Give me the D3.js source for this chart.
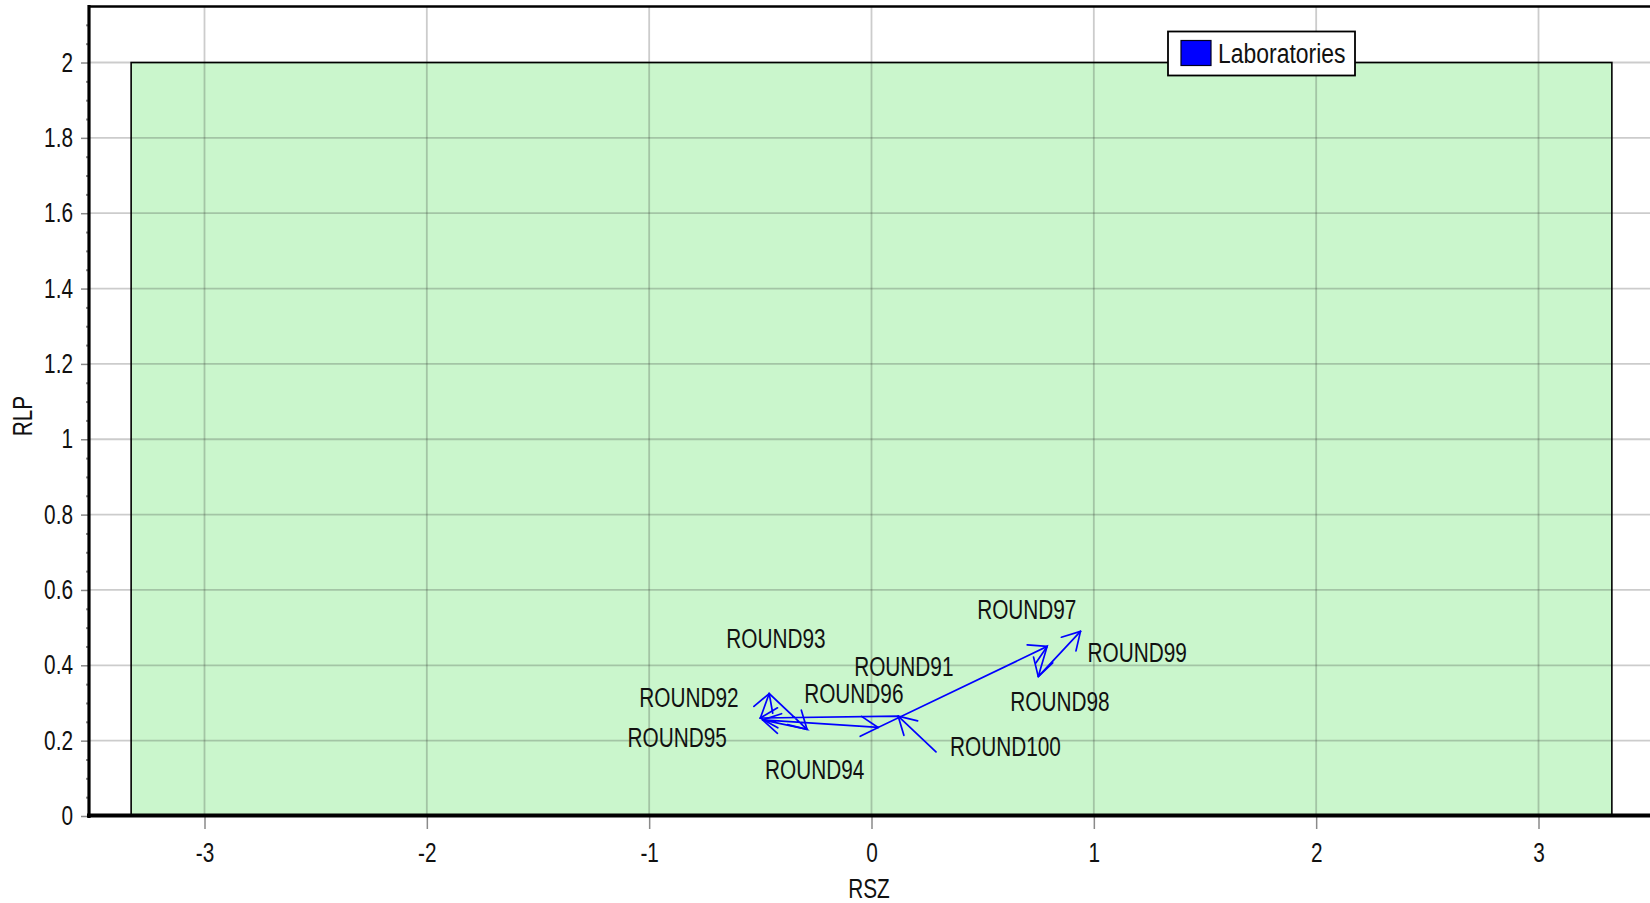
<!DOCTYPE html>
<html>
<head>
<meta charset="utf-8">
<script src="https://cdn.jsdelivr.net/npm/d3@7"></script>
<style>
  html, body { margin: 0; padding: 0; background: #fff; overflow: hidden; }
  svg { display: block; }
  text { font-family: "Liberation Sans", Arial, sans-serif; fill: #111; }
</style>
</head>
<body>
<svg id="chart" width="1650" height="903"></svg>
<script>
// Rounds in the order the trajectory is drawn (sorted as text, so ROUND100 comes first)
const rounds = ["ROUND100", "ROUND91", "ROUND92", "ROUND93", "ROUND94",
                "ROUND95", "ROUND96", "ROUND97", "ROUND98", "ROUND99"];
const rszValues = [0.29, 0.12, -0.50, -0.46, -0.29, -0.49, 0.03, 0.79, 0.75, 0.94];
const rlpValues = [0.17, 0.265, 0.26, 0.325, 0.23, 0.255, 0.235, 0.45, 0.37, 0.49];

// Acceptance region
const regionRsz = [-3.33, 3.33];
const regionRlp = [0, 2];

// Axis ticks
const xTicks = [-3, -2, -1, 0, 1, 2, 3];
const yTicks = [0, 0.2, 0.4, 0.6, 0.8, 1, 1.2, 1.4, 1.6, 1.8, 2];
const yMinorTicks = d3.range(0, 2.15, 0.05).map(v => +v.toFixed(2))
  .filter(v => Math.abs(v / 0.2 - Math.round(v / 0.2)) > 1e-6);

const seriesName = "Laboratories";

// Where each round's label sits relative to its point (pixels)
const labelOffsets = [[14, -5], [-44, -50], [-121, -21], [-43, -55], [-42, 40],
                      [-135, 18], [-74, -34], [-70, -37], [-28, 25], [7, 21]];

const W = 1650, H = 903;
const plot = { left: 89, top: 6.5, right: 1655, bottom: 816 };
const FONT = 27, SX = 0.77;

const svg = d3.select("#chart");
const x = d3.scaleLinear().domain([-3.524, 3.524]).range([88, 1655]);
const y = d3.scaleLinear().domain([0, 2.15]).range([816, 6]);

// Acceptance region fill
svg.append("rect")
  .attr("x", x(regionRsz[0])).attr("y", y(regionRlp[1]))
  .attr("width", x(regionRsz[1]) - x(regionRsz[0]))
  .attr("height", y(regionRlp[0]) - y(regionRlp[1]))
  .attr("fill", "#caf6cc");

// Grid
const grid = svg.append("g").attr("stroke", "rgba(40,40,40,0.24)").attr("stroke-width", 1.8);
grid.selectAll("line.v").data(xTicks).join("line").attr("class", "v")
  .attr("x1", d => x(d)).attr("x2", d => x(d))
  .attr("y1", plot.top).attr("y2", plot.bottom);
grid.selectAll("line.h").data(yTicks.filter(d => d > 0)).join("line").attr("class", "h")
  .attr("x1", plot.left).attr("x2", W)
  .attr("y1", d => y(d)).attr("y2", d => y(d));

// Acceptance region outline
svg.append("rect")
  .attr("x", x(regionRsz[0])).attr("y", y(regionRlp[1]))
  .attr("width", x(regionRsz[1]) - x(regionRsz[0]))
  .attr("height", y(regionRlp[0]) - y(regionRlp[1]))
  .attr("fill", "none").attr("stroke", "#000").attr("stroke-width", 1.6);

// Y axis: major and minor ticks
const yAxis = svg.append("g").attr("transform", `translate(${plot.left},0)`)
  .call(d3.axisLeft(y).tickValues(yTicks).tickSize(8).tickPadding(8)
    .tickFormat(d => String(+d.toFixed(1))));
yAxis.select(".domain").remove();
yAxis.selectAll(".tick line").attr("stroke", "#8a8a8a").attr("stroke-width", 1.5);
yAxis.selectAll(".tick text")
  .attr("x", -16 / SX).attr("transform", `scale(${SX},1)`)
  .attr("font-size", FONT).attr("font-family", "Liberation Sans, Arial, sans-serif").attr("fill", "#111");

const yMinor = svg.append("g").attr("transform", `translate(${plot.left},0)`)
  .call(d3.axisLeft(y).tickValues(yMinorTicks).tickSize(3).tickFormat(""));
yMinor.select(".domain").remove();
yMinor.selectAll(".tick line").attr("stroke", "#8a8a8a").attr("stroke-width", 2);

// X axis
const xAxis = svg.append("g").attr("transform", `translate(0,${plot.bottom})`)
  .call(d3.axisBottom(x).tickValues(xTicks).tickSize(13).tickPadding(14)
    .tickFormat(d => String(d)));
xAxis.select(".domain").remove();
xAxis.selectAll(".tick line").attr("stroke", "#8a8a8a").attr("stroke-width", 1.5);
xAxis.selectAll(".tick text")
  .attr("transform", `scale(${SX},1)`)
  .attr("font-size", FONT).attr("font-family", "Liberation Sans, Arial, sans-serif").attr("fill", "#111");

// Frame: top border, left and bottom axis lines
svg.append("line").attr("x1", plot.left).attr("x2", W).attr("y1", plot.top).attr("y2", plot.top)
  .attr("stroke", "#000").attr("stroke-width", 2.5);
svg.append("line").attr("x1", plot.left).attr("x2", plot.left).attr("y1", 5).attr("y2", 818)
  .attr("stroke", "#000").attr("stroke-width", 3.2);
svg.append("line").attr("x1", 87).attr("x2", W).attr("y1", 815.5).attr("y2", 815.5)
  .attr("stroke", "#000").attr("stroke-width", 4);

// Axis titles
svg.append("text").attr("transform", `translate(869,889) scale(${SX},1)`)
  .attr("text-anchor", "middle").attr("dy", "0.35em").attr("font-size", FONT).text("RSZ");
svg.append("text").attr("transform", `translate(23,416) rotate(-90) scale(${SX},1)`)
  .attr("text-anchor", "middle").attr("dy", "0.35em").attr("font-size", FONT).text("RLP");

// Trajectory
const pts = rounds.map((r, i) => ({ round: r, px: x(rszValues[i]), py: y(rlpValues[i]) }));
const traj = svg.append("g").attr("fill", "none").attr("stroke", "#0000ff")
  .attr("stroke-width", 1.7).attr("stroke-linecap", "round");
traj.append("path")
  .attr("d", d3.line().x(d => d.px).y(d => d.py)(pts));

// Arrowheads at the end of each step
const barb = 20, spread = Math.PI / 6;
const heads = [];
for (let i = 1; i < pts.length; i++) {
  const a = pts[i - 1], b = pts[i];
  const ang = Math.atan2(a.py - b.py, a.px - b.px);
  [ang - spread, ang + spread].forEach(t => {
    heads.push([b.px, b.py, b.px + barb * Math.cos(t), b.py + barb * Math.sin(t)]);
  });
}
traj.selectAll("line").data(heads).join("line")
  .attr("x1", d => d[0]).attr("y1", d => d[1])
  .attr("x2", d => d[2]).attr("y2", d => d[3]);

// Round labels
svg.append("g").selectAll("text").data(pts).join("text")
  .attr("transform", (d, i) => `translate(${d.px + labelOffsets[i][0]},${d.py + labelOffsets[i][1]}) scale(${SX},1)`)
  .attr("dy", "0.35em").attr("font-size", FONT)
  .text(d => d.round);

// Legend
const lg = svg.append("g").attr("transform", "translate(1168,31.5)");
lg.append("rect").attr("width", 187).attr("height", 44)
  .attr("fill", "#fff").attr("stroke", "#000").attr("stroke-width", 1.8);
lg.append("rect").attr("x", 13).attr("y", 9).attr("width", 30).attr("height", 25)
  .attr("fill", "#0000ff").attr("stroke", "#000022").attr("stroke-width", 1.2);
lg.append("text").attr("transform", `translate(50,22) scale(0.85,1)`)
  .attr("dy", "0.35em").attr("font-size", FONT).text(seriesName);
</script>
</body>
</html>
